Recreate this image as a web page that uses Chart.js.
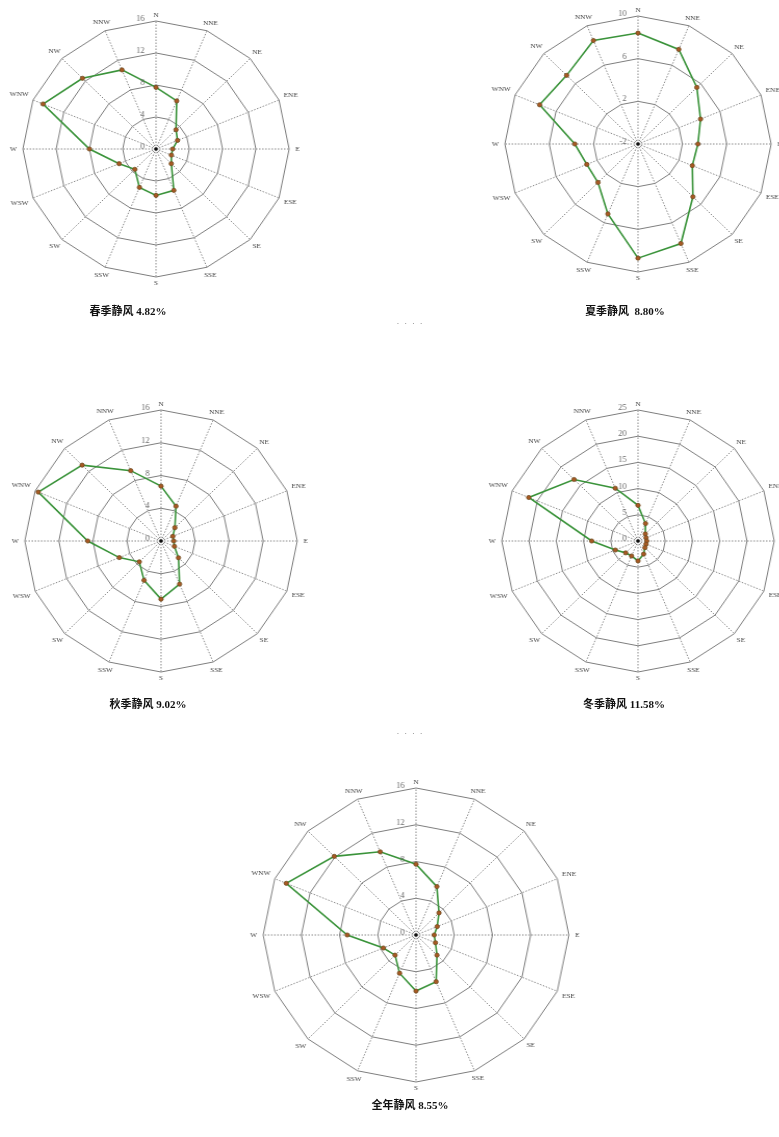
<!DOCTYPE html>
<html>
<head>
<meta charset="utf-8">
<script src="https://cdn.jsdelivr.net/npm/chart.js@4"></script>
<style>
  html, body { margin: 0; padding: 0; background: #fff; overflow: hidden; }
  body { width: 779px; height: 1137px; position: relative; }
  canvas { position: absolute; transform: scaleX(1.04); transform-origin: 50% 50%; }
  .cap { position: absolute; transform: translate(-50%, -50%); white-space: pre;
         font: bold 11px "Liberation Serif", "Noto Sans CJK SC", serif; color: #111; }
  .sep { position: absolute; transform: translate(-50%, -50%); white-space: pre;
         font: 9px "DejaVu Sans", sans-serif; color: #9a9a9a; letter-spacing: 1px; }
</style>
</head>
<body>
<script>
// 16 compass sectors, clockwise from north
const directions = ['N','NNE','NE','ENE','E','ESE','SE','SSE','S','SSW','SW','WSW','W','WNW','NW','NNW'];

// wind direction frequency (%) per sector
const springFreq = [7.7, 6.5, 3.4, 2.8, 2.0, 2.0, 2.6, 5.6, 5.8, 5.2, 3.6, 4.8, 8.0, 14.7, 12.5, 10.7];
const summerFreq = [8.4, 7.6, 5.5, 4.1, 3.4, 3.3, 5.0, 8.1, 8.7, 5.1, 3.1, 3.0, 3.7, 7.6, 7.1, 8.5];
const autumnFreq = [6.7, 4.6, 2.3, 1.5, 1.5, 1.7, 2.9, 5.7, 7.1, 5.2, 3.6, 5.3, 8.6, 15.6, 13.1, 9.3];
const winterFreq = [6.8, 3.6, 1.9, 1.6, 1.6, 1.6, 1.8, 2.7, 3.8, 3.1, 3.2, 4.5, 8.5, 21.7, 16.6, 10.9];
const annualFreq = [7.7, 5.7, 3.4, 2.4, 1.9, 2.2, 3.1, 5.5, 6.1, 4.5, 3.1, 3.7, 7.2, 14.7, 12.1, 9.8];

// radial axis ranges: [min, max, step]
const springAxis = [0, 16, 4];
const summerAxis = [-2, 10, 4];
const autumnAxis = [0, 16, 4];
const winterAxis = [0, 25, 5];
const annualAxis = [0, 16, 4];

// captions (calm-wind share)
const captions = ['春季静风 4.82%', '夏季静风  8.80%', '秋季静风 9.02%', '冬季静风 11.58%', '全年静风 8.55%'];

// layout of each rose: centre x, centre y, radius, caption x, caption y
const panels = [
  { data: springFreq, axis: springAxis, cx: 156, cy: 149, r: 128, capX: 128, capY: 310 },
  { data: summerFreq, axis: summerAxis, cx: 638, cy: 144, r: 128, capX: 625, capY: 310 },
  { data: autumnFreq, axis: autumnAxis, cx: 161, cy: 541, r: 131, capX: 148, capY: 703 },
  { data: winterFreq, axis: winterAxis, cx: 638, cy: 541, r: 131, capX: 624, capY: 703 },
  { data: annualFreq, axis: annualAxis, cx: 416, cy: 935, r: 147, capX: 410, capY: 1104 }
];

// draws the compass labels, ring values and the centre dot
const roseDecor = {
  id: 'roseDecor',
  afterDraw(chart) {
    const s = chart.scales.r;
    const ctx = chart.ctx;
    const outer = s.getDistanceFromCenterForValue(s.max);
    ctx.save();
    // compass labels
    ctx.font = '7px "Liberation Serif", serif';
    ctx.fillStyle = '#444';
    ctx.textAlign = 'center';
    ctx.textBaseline = 'middle';
    directions.forEach((d, i) => {
      const w = ctx.measureText(d).width;
      const a = s.getIndexAngle(i);
      const dist = outer + 6 + Math.abs(Math.sin(a)) * w / 2;
      const p = s.getPointPosition(i, dist);
      ctx.fillText(d, p.x, p.y);
    });
    // ring values along the north axis
    ctx.font = '8px "Liberation Serif", serif';
    ctx.fillStyle = '#666';
    ctx.textAlign = 'right';
    s.ticks.forEach(t => {
      const y = s.yCenter - s.getDistanceFromCenterForValue(t.value);
      ctx.fillText(String(t.value), s.xCenter - 11, y - 2);
    });
    // centre mark
    ctx.fillStyle = '#111';
    ctx.beginPath();
    ctx.arc(s.xCenter, s.yCenter, 1.8, 0, Math.PI * 2);
    ctx.fill();
    ctx.restore();
  }
};

const PAD = 26;

panels.forEach((pn, k) => {
  const size = 2 * (pn.r + PAD);
  const cv = document.createElement('canvas');
  cv.width = size;
  cv.height = size;
  cv.style.left = (pn.cx - size / 2) + 'px';
  cv.style.top = (pn.cy - size / 2) + 'px';
  document.body.appendChild(cv);

  new Chart(cv, {
    type: 'radar',
    data: {
      labels: directions,
      datasets: [{
        data: pn.data,
        borderColor: '#3a933a',
        borderWidth: 1.6,
        backgroundColor: 'rgba(0,0,0,0)',
        fill: false,
        pointRadius: 2.1,
        pointBackgroundColor: '#a85a24',
        pointBorderColor: '#6f4a1e',
        pointBorderWidth: 0.8,
        tension: 0
      }]
    },
    options: {
      responsive: false,
      animation: false,
      devicePixelRatio: 1,
      layout: { padding: PAD },
      plugins: { legend: { display: false }, tooltip: { enabled: false } },
      scales: {
        r: {
          min: pn.axis[0],
          max: pn.axis[1],
          ticks: { stepSize: pn.axis[2], display: false },
          grid: { circular: false, color: '#7e7e7e', lineWidth: 1 },
          angleLines: { color: '#8a8a8a', lineWidth: 1, borderDash: [1.5, 1.5] },
          pointLabels: { display: false }
        }
      }
    },
    plugins: [roseDecor]
  });

  const cap = document.createElement('div');
  cap.className = 'cap';
  cap.textContent = captions[k];
  cap.style.left = pn.capX + 'px';
  cap.style.top = pn.capY + 'px';
  document.body.appendChild(cap);
});

// separators between rows
[321, 731].forEach(y => {
  const d = document.createElement('div');
  d.className = 'sep';
  d.textContent = '. . . .';
  d.style.left = '410px';
  d.style.top = y + 'px';
  document.body.appendChild(d);
});
</script>
</body>
</html>
